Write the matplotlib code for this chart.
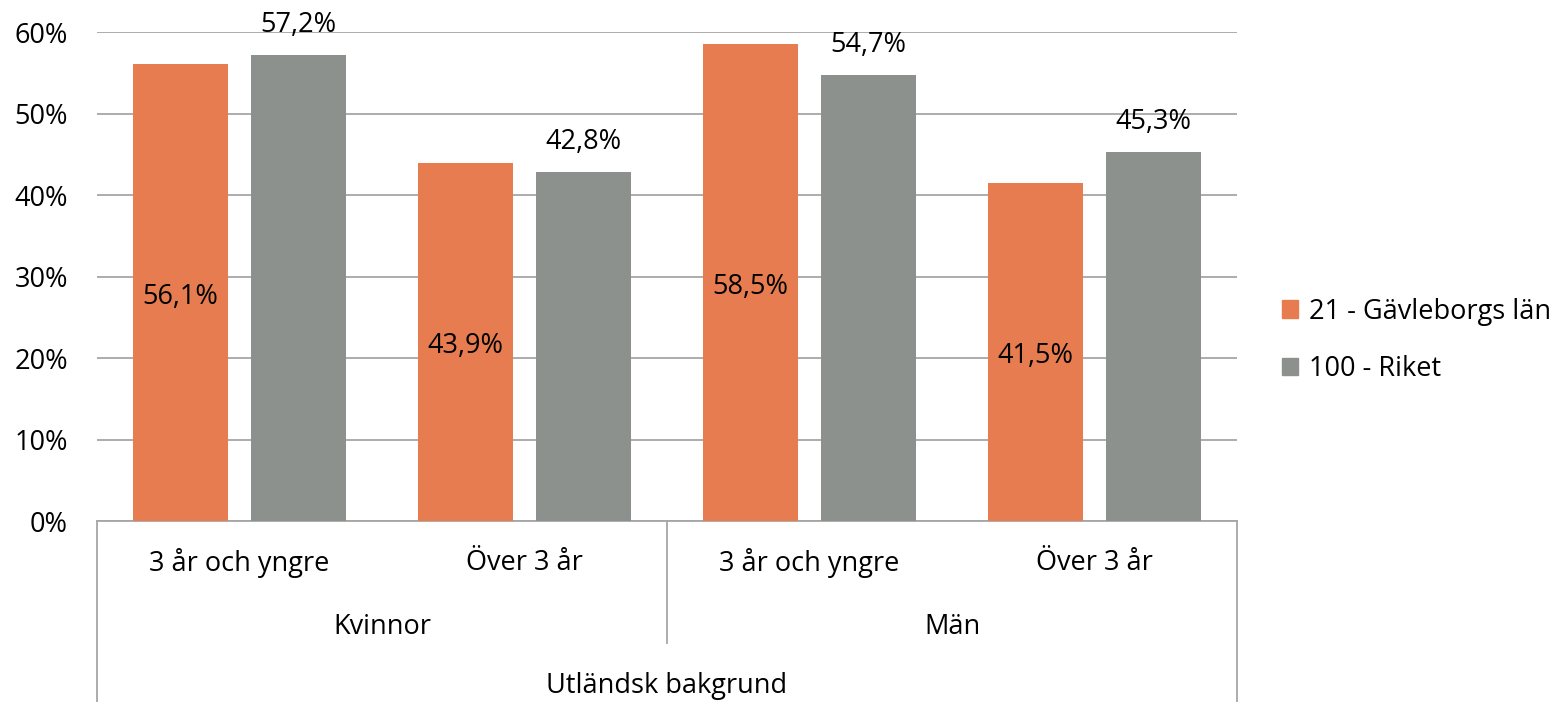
import matplotlib
matplotlib.use("Agg")
import matplotlib.pyplot as plt
import numpy as np
from matplotlib.patches import Patch

plt.rcParams['font.family'] = ['Open Sans', 'DejaVu Sans']

subgroups = ["3 år och yngre", "Över 3 år", "3 år och yngre", "Över 3 år"]
groups = ["Kvinnor", "Män"]
top_label = "Utländsk bakgrund"
series_names = ["21 - Gävleborgs län", "100 - Riket"]
gavleborg = [56.1, 43.9, 58.5, 41.5]
riket = [57.2, 42.8, 54.7, 45.3]
colors = ["#E67C4F", "#8C918E"]

fig = plt.figure(figsize=(15.6, 7.02), dpi=100)
ax = fig.add_axes([0.0622, 0.2578, 0.7308, 0.6966])

x = np.arange(len(subgroups))
w = 0.333
off = 0.207
ax.bar(x - off, gavleborg, w, color=colors[0], zorder=3)
ax.bar(x + off, riket, w, color=colors[1], zorder=3)

fs = 19.5
for xi, v in zip(x - off, gavleborg):
    ax.annotate(f"{v:.1f}%".replace(".", ","), (xi, v / 2), xytext=(0, -3), textcoords="offset points",
                ha="center", va="center", fontsize=fs, zorder=4)
for xi, v in zip(x + off, riket):
    ax.annotate(f"{v:.1f}%".replace(".", ","), (xi, v), xytext=(0, 21.5), textcoords="offset points",
                ha="center", va="center", fontsize=fs, zorder=4, annotation_clip=False)

ax.set_xlim(-0.5, 3.5)
ax.set_ylim(0, 60)
ax.set_yticks(np.arange(0, 61, 10))
ax.set_yticklabels([f"{t}%" for t in range(0, 61, 10)], fontsize=fs)
ax.yaxis.grid(True, color="#A6A6A6", linewidth=1.3, zorder=0)
ax.tick_params(axis="y", length=0, pad=21)
ax.set_xticks([])
for s in ["top", "right", "left"]:
    ax.spines[s].set_visible(False)
ax.spines["bottom"].set_color("#A6A6A6")
ax.spines["bottom"].set_linewidth(1.3)

# hierarchical category axis
trans = ax.get_xaxis_transform()
lc = "#A6A6A6"
ax_h = 0.6966 * 7.02  # axes height inches
def yfrac(px):
    return -px / (ax_h * 100)
for xv, depth in [(-0.5, 181), (1.5, 122), (3.5, 181)]:
    ax.plot([xv, xv], [0, yfrac(depth)], transform=trans, color=lc, linewidth=1.3, clip_on=False)
for xi, lab in zip(x, subgroups):
    ax.text(xi, yfrac(42), lab, transform=trans, ha="center", va="center", fontsize=fs)
for gi, lab in enumerate(groups):
    ax.text(gi * 2 + 0.5, yfrac(106), lab, transform=trans, ha="center", va="center", fontsize=fs)
ax.text(1.5, yfrac(165), top_label, transform=trans, ha="center", va="center", fontsize=fs)

handles = [Patch(color=c) for c in colors]
fig.legend(handles, series_names, loc="center left", bbox_to_anchor=(0.806, 0.515),
           frameon=False, fontsize=fs, handlelength=0.6, handleheight=0.6,
           handletextpad=0.4, labelspacing=1.1)

fig.savefig("out.png", dpi=100)
